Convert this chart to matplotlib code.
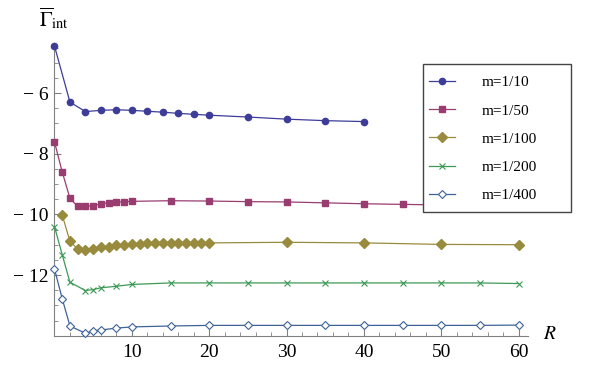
import matplotlib
matplotlib.use('Agg')
import matplotlib.pyplot as plt
from matplotlib.patches import Rectangle
from matplotlib.ticker import MultipleLocator

plt.rcParams['font.family'] = ['Liberation Serif', 'DejaVu Serif']
plt.rcParams['mathtext.fontset'] = 'stix'

# data
r_10 = [0, 2, 4, 6, 8, 10, 12, 14, 16, 18, 20, 25, 30, 35, 40]
g_10 = [-4.45, -6.30, -6.61, -6.57, -6.55, -6.57, -6.60, -6.63, -6.67, -6.70,
        -6.73, -6.79, -6.86, -6.91, -6.94]

r_50 = [0, 1, 2, 3, 4, 5, 6, 7, 8, 9, 10, 15, 20, 25, 30, 35, 40, 45, 50, 55, 60]
g_50 = [-7.61, -8.60, -9.47, -9.74, -9.74, -9.71, -9.66, -9.61, -9.60, -9.58,
        -9.57, -9.55, -9.56, -9.58, -9.59, -9.62, -9.65, -9.67, -9.69, -9.70, -9.72]

r_100 = [1, 2, 3, 4, 5, 6, 7, 8, 9, 10, 11, 12, 13, 14, 15, 16, 17, 18, 19, 20,
         30, 40, 50, 60]
g_100 = [-10.02, -10.89, -11.14, -11.16, -11.13, -11.09, -11.06, -11.02, -11.00,
         -10.98, -10.97, -10.96, -10.96, -10.95, -10.95, -10.94, -10.94, -10.94,
         -10.94, -10.94, -10.92, -10.94, -10.99, -11.00]

r_200 = [0, 1, 2, 4, 5, 6, 8, 10, 15, 20, 25, 30, 35, 40, 45, 50, 55, 60]
g_200 = [-10.40, -11.33, -12.24, -12.51, -12.48, -12.42, -12.37, -12.31, -12.26,
         -12.26, -12.26, -12.26, -12.26, -12.26, -12.26, -12.26, -12.26, -12.28]

r_400 = [0, 1, 2, 4, 5, 6, 8, 10, 15, 20, 25, 30, 35, 40, 45, 50, 55, 60]
g_400 = [-11.80, -12.78, -13.68, -13.92, -13.84, -13.81, -13.75, -13.71, -13.68,
         -13.66, -13.66, -13.66, -13.66, -13.66, -13.66, -13.66, -13.66, -13.65]

labels = ['m=1/10', 'm=1/50', 'm=1/100', 'm=1/200', 'm=1/400']
colors = ['#3d3d99', '#993d71', '#998b3d', '#3d9956', '#3d6399']

fig = plt.figure(figsize=(6, 3.75), dpi=100)
ax = fig.add_axes([0.0908, 0.1048, 0.789, 0.7805])

style = dict(lw=0.9, clip_on=False, zorder=3)
ax.plot(r_10, g_10, marker='o', ms=4.5, color=colors[0], label=labels[0], **style)
ax.plot(r_50, g_50, marker='s', ms=4.0, color=colors[1], label=labels[1], **style)
ax.plot(r_100, g_100, marker='D', ms=5.0, color=colors[2], label=labels[2], **style)
ax.plot(r_200, g_200, marker='x', ms=4.5, mew=0.8, color=colors[3], label=labels[3], **style)
ax.plot(r_400, g_400, marker='D', ms=4.5, mfc='white', mew=0.8, color=colors[4],
        label=labels[4], **style)

ax.set_xlim(0, 61.2)
ax.set_ylim(-14, -4.35)

for s in ['top', 'right']:
    ax.spines[s].set_visible(False)
for s in ['left', 'bottom']:
    ax.spines[s].set_color('#808080')
    ax.spines[s].set_linewidth(0.8)

ax.xaxis.set_minor_locator(MultipleLocator(2))
ax.yaxis.set_minor_locator(MultipleLocator(0.5))
ax.set_xticks([10, 20, 30, 40, 50, 60])
ax.set_yticks([-12, -10, -8, -6])
ax.set_yticklabels(['\u2212 12', '\u2212 10', '\u2212 8', '\u2212 6'])
ax.tick_params(which='major', direction='in', length=5, width=0.8, color='#808080',
               labelsize=14)
ax.tick_params(which='minor', direction='in', length=3, width=0.6, color='#808080')
ax.tick_params(axis='x', pad=6)
ax.tick_params(axis='y', pad=4)

fig.text(39 / 600, 1 - 26 / 375, r'$\overline{\Gamma}_{\mathrm{int}}$', fontsize=15,
         ha='left', va='baseline')
fig.text(543 / 600, 1 - 339 / 375, r'$R$', fontsize=14, ha='left', va='baseline')

# legend box
box = Rectangle((423 / 600, 1 - 212 / 375), 148 / 600, 148 / 375,
                transform=fig.transFigure, facecolor='white', edgecolor='#444444',
                lw=1.0, zorder=4, clip_on=False)
ax.add_patch(box)
leg = ax.legend(loc='upper left', bbox_to_anchor=(423 / 600, 1 - 69.5 / 375),
                bbox_transform=fig.transFigure, frameon=False, fontsize=11,
                handlelength=1.7, handletextpad=1.75, labelspacing=0.95,
                borderpad=0.4, borderaxespad=0)
leg.set_zorder(5)

plt.savefig('out.png', dpi=100)
